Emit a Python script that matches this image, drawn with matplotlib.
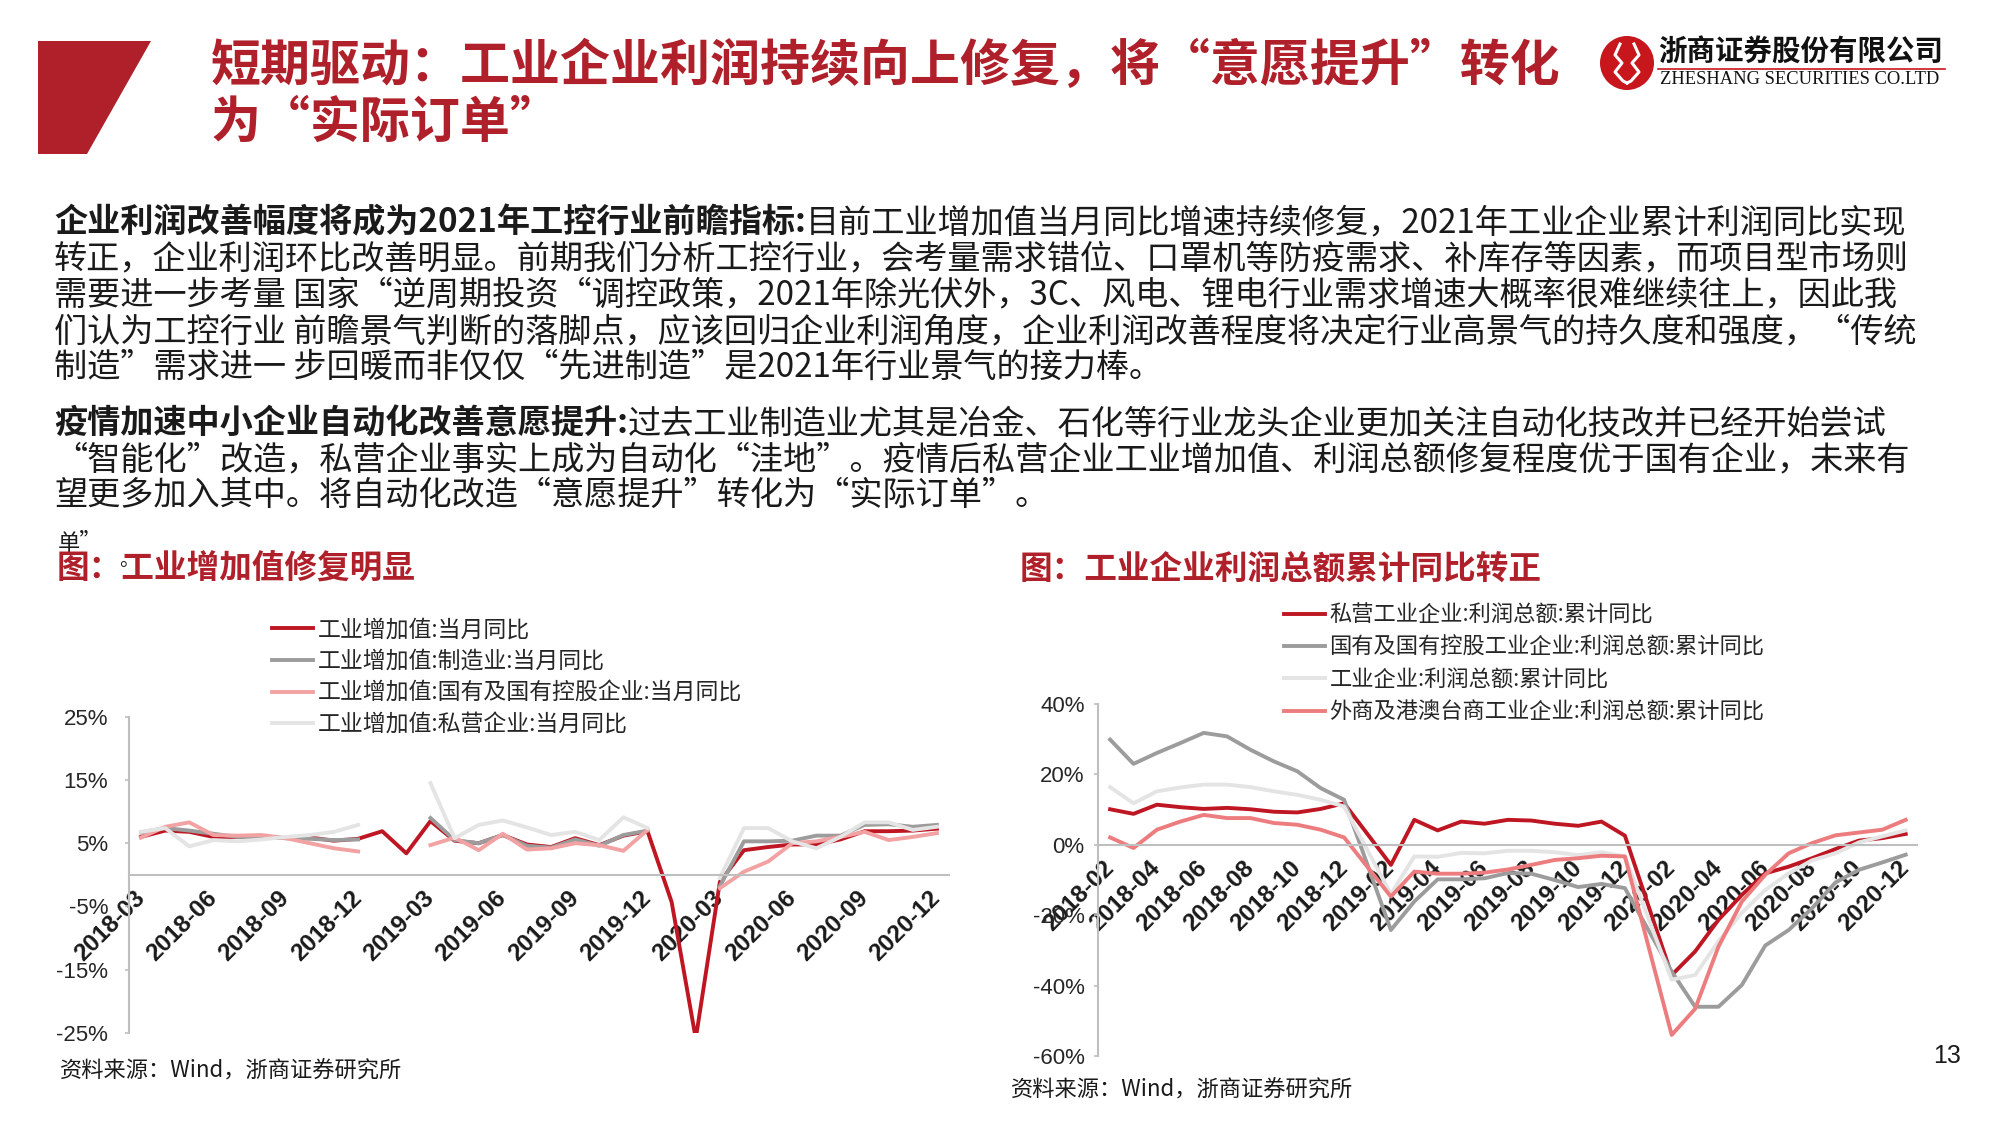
import numpy as np
import pandas as pd
import matplotlib
matplotlib.use("Agg")
import matplotlib.pyplot as plt
import matplotlib.ticker as mtick
from matplotlib.patches import Polygon, Circle

plt.rcParams["font.family"] = ["Noto Sans CJK SC", "DejaVu Sans"]
plt.rcParams["axes.unicode_minus"] = False

# ---------------- data ----------------
nan = np.nan
mon_l = pd.period_range("2018-03", "2020-12", freq="M").strftime("%Y-%m").tolist()
mon_r = pd.period_range("2018-02", "2020-12", freq="M").strftime("%Y-%m").tolist()

# 工业增加值 当月同比 (%), 2018-03 .. 2020-12
iva = [6.0, 7.0, 6.8, 6.0, 6.0, 6.1, 5.8, 5.9, 5.4, 5.7, 6.9, 3.4,
       8.5, 5.4, 5.0, 6.3, 4.8, 4.4, 5.8, 4.7, 6.2, 6.9, -4.3, -25.9,
       -1.1, 3.9, 4.4, 4.8, 4.8, 5.6, 6.9, 6.9, 7.0, 7.3]
iva_mfg = [6.7, 7.4, 7.0, 6.5, 6.0, 5.9, 5.8, 5.7, 5.5, 5.6, nan, nan,
           9.0, 5.5, 5.0, 6.3, 4.6, 4.3, 5.6, 4.6, 6.3, 7.0, nan, nan,
           -1.8, 5.3, 5.3, 5.4, 6.2, 6.2, 7.9, 8.0, 7.6, 7.9]
iva_soe = [5.9, 7.6, 8.3, 6.3, 6.2, 6.3, 5.8, 5.0, 4.2, 3.7, nan, nan,
           4.7, 5.9, 3.9, 6.5, 4.0, 4.2, 5.0, 4.7, 3.8, 7.1, nan, nan,
           -2.1, 0.5, 2.1, 5.0, 5.3, 6.0, 6.8, 5.5, 6.0, 6.6]
iva_pvt = [6.8, 7.4, 4.5, 5.5, 5.3, 5.6, 6.0, 6.3, 6.8, 7.9, nan, nan,
           14.5, 5.8, 7.9, 8.6, 7.5, 6.3, 6.8, 5.5, 9.1, 7.4, nan, nan,
           -0.5, 7.4, 7.4, 5.3, 4.2, 6.0, 8.3, 8.3, 7.1, 7.6]
lab_l = ["工业增加值:当月同比", "工业增加值:制造业:当月同比",
         "工业增加值:国有及国有控股企业:当月同比", "工业增加值:私营企业:当月同比"]

# 利润总额 累计同比 (%), 2018-02 .. 2020-12
pf_pvt = [10.1, 8.8, 11.4, 10.7, 10.2, 10.5, 10.1, 9.4, 9.2, 10.2, 11.8, nan,
          -5.7, 7.1, 4.1, 6.6, 6.0, 7.1, 6.9, 6.0, 5.4, 6.6, 2.6, nan,
          -37.0, -30.3, -21.3, -14.2, -8.1, -6.2, -3.8, -1.2, 1.2, 1.9, 3.1]
pf_soe = [29.9, 23.0, 26.1, 28.9, 31.8, 30.8, 27.0, 23.7, 20.9, 16.1, 12.8, nan,
          -24.2, -16.1, -9.8, -9.8, -9.5, -8.0, -8.2, -10.0, -12.0, -11.1, -12.3, nan,
          -36.0, -46.0, -46.0, -39.8, -28.6, -24.2, -18.0, -10.7, -7.1, -5.0, -2.8]
pf_all = [16.4, 11.8, 15.2, 16.3, 17.1, 17.1, 16.4, 15.2, 14.2, 12.8, 10.9, nan,
          -14.0, -3.3, -3.4, -2.3, -2.4, -1.7, -1.7, -2.1, -2.9, -2.1, -3.3, nan,
          -38.3, -37.0, -27.4, -19.3, -12.8, -8.1, -4.4, -2.4, 0.7, 2.4, 4.1]
pf_fgn = [2.1, -0.9, 4.3, 6.6, 8.5, 7.6, 7.6, 6.2, 5.7, 4.3, 2.1, nan,
          -14.7, -7.6, -8.2, -8.2, -7.9, -7.0, -5.7, -4.3, -3.8, -3.1, -3.3, nan,
          -54.0, -46.6, -28.9, -16.1, -8.5, -2.4, 0.5, 2.7, 3.5, 4.3, 7.1]
lab_r = ["私营工业企业:利润总额:累计同比", "国有及国有控股工业企业:利润总额:累计同比",
         "工业企业:利润总额:累计同比", "外商及港澳台商工业企业:利润总额:累计同比"]

RED = "#B0202A"
TXT = "#1A1A1A"
AXC = "#BFBFBF"
col_l = ["#BE1622", "#9C9C9C", "#F2A2A2", "#E4E4E4"]
col_r = ["#BE1622", "#9C9C9C", "#E4E4E4", "#EC7C7E"]

fig = plt.figure(figsize=(20, 11.25), dpi=100)
bg = fig.add_axes([0, 0, 1, 1])
bg.set_xlim(0, 2000)
bg.set_ylim(1125, 0)
bg.axis("off")

# ---------------- header ----------------
bg.add_patch(Polygon([(38, 41), (151, 41), (87, 154), (38, 154)], closed=True, color=RED, lw=0))
bg.text(211, 67, "短期驱动：工业企业利润持续向上修复，将“意愿提升”转化",
        fontsize=36, weight="bold", color=RED, va="center")
bg.text(211, 123, "为“实际订单”", fontsize=36, weight="bold", color=RED, va="center")

# logo
cx, cy = 1627, 63
bg.add_patch(Circle((cx, cy), 27, color="#C8161D", lw=0))
pts = np.array([(-7, -19), (-12, -8), (-5, 0), (-12, 9), (-4, 18), (0, 20)])
for sgn in (-1, 1):
    bg.plot(cx + sgn * -pts[:, 0], cy + pts[:, 1], color="white", lw=2.2, solid_joinstyle="round")
bg.text(1658, 52, "浙商证券股份有限公司", fontsize=20.5, weight="bold", va="center", color="#111111")
bg.plot([1658, 1945], [68.5, 68.5], color="#C8161D", lw=1.2)
bg.text(1660, 80, "ZHESHANG SECURITIES CO.LTD", family="Liberation Serif",
        fontsize=13.3, va="center", color="#111111")

# ---------------- body text ----------------
FS = 23.9


def tline(y, s, bold=None):
    if bold:
        t = bg.text(54, y, bold, fontsize=FS, weight="bold", va="baseline", color=TXT)
        bg.annotate(s, xy=(1, y), xycoords=(t, "data"), fontsize=FS, va="baseline", color=TXT)
    else:
        bg.text(54, y, s, fontsize=FS, va="baseline", color=TXT)


tline(232, "目前工业增加值当月同比增速持续修复，2021年工业企业累计利润同比实现",
      "企业利润改善幅度将成为2021年工控行业前瞻指标:")
tline(268, "转正，企业利润环比改善明显。前期我们分析工控行业，会考量需求错位、口罩机等防疫需求、补库存等因素，而项目型市场则")
tline(304, "需要进一步考量 国家“逆周期投资“调控政策，2021年除光伏外，3C、风电、锂电行业需求增速大概率很难继续往上，因此我")
tline(341, "们认为工控行业 前瞻景气判断的落脚点，应该回归企业利润角度，企业利润改善程度将决定行业高景气的持久度和强度，“传统")
tline(377, "制造”需求进一 步回暖而非仅仅“先进制造”是2021年行业景气的接力棒。")
tline(434, "过去工业制造业尤其是冶金、石化等行业龙头企业更加关注自动化技改并已经开始尝试",
      "疫情加速中小企业自动化改善意愿提升:")
tline(469, "“智能化”改造，私营企业事实上成为自动化“洼地”。疫情后私营企业工业增加值、利润总额修复程度优于国有企业，未来有")
tline(505, "望更多加入其中。将自动化改造“意愿提升”转化为“实际订单”。")

# stray fragments and chart titles
bg.text(58, 544, "单”", fontsize=16, va="center", color=TXT)
bg.text(119, 566, "。", fontsize=14, va="baseline", color=TXT)
bg.text(57, 569, "图：工业增加值修复明显", fontsize=23.5, weight="bold", color=RED, va="center")
bg.text(1020, 569, "图：工业企业利润总额累计同比转正", fontsize=23.5, weight="bold", color=RED, va="center")

bg.text(60, 1071, "资料来源：Wind，浙商证券研究所", fontsize=16, va="center", color=TXT)
bg.text(1011, 1090, "资料来源：Wind，浙商证券研究所", fontsize=16, va="center", color=TXT)
bg.text(1961, 1056, "13", fontsize=18, family="Liberation Sans", ha="right", va="center", color=TXT)


# ---------------- charts ----------------
def style(ax, n, ticks, labels, ypad):
    ax.set_facecolor("none")
    for s in ("top", "right"):
        ax.spines[s].set_visible(False)
    ax.spines["left"].set_color(AXC)
    ax.spines["left"].set_linewidth(1.5)
    ax.spines["bottom"].set_position(("data", 0))
    ax.spines["bottom"].set_color(AXC)
    ax.spines["bottom"].set_linewidth(1.5)
    ax.set_xlim(-0.5, n - 0.5)
    ax.yaxis.set_major_formatter(mtick.PercentFormatter(decimals=0))
    ax.tick_params(axis="y", length=3, width=1.2, color=AXC, labelsize=16, pad=ypad,
                   labelcolor="#262626", labelfontfamily="Liberation Sans")
    ax.tick_params(axis="x", length=0, pad=14)
    ax.set_xticks(ticks)
    ax.set_xticklabels(labels, rotation=45, ha="right", va="center", rotation_mode="anchor",
                       fontsize=17.5, fontweight="bold", family="Liberation Sans", color="#1A1A1A")


axL = fig.add_axes([0.0645, 0.0818, 0.41, 0.2811])
xl = np.arange(len(mon_l))
for v, c, lb in zip([iva, iva_mfg, iva_soe, iva_pvt], col_l, lab_l):
    axL.plot(xl, v, color=c, lw=2.8, label=lb, solid_joinstyle="round")
axL.set_ylim(-25, 25)
axL.set_yticks([25, 15, 5, -5, -15, -25])
style(axL, len(mon_l), xl[::3], mon_l[::3], 12)
axL.legend(loc="upper left", bbox_to_anchor=(0.136, 0.4505), bbox_transform=fig.transFigure,
           frameon=False, fontsize=16.5, handlelength=1.8, handletextpad=0.2,
           labelspacing=0.38, borderpad=0, borderaxespad=0, labelcolor="#262626")

axR = fig.add_axes([0.5492, 0.0613, 0.4095, 0.3129])
xr = np.arange(len(mon_r))
for v, c, lb in zip([pf_pvt, pf_soe, pf_all, pf_fgn], col_r, lab_r):
    v = np.array(v)
    ok = ~np.isnan(v)
    axR.plot(xr[ok], v[ok], color=c, lw=2.8, label=lb, solid_joinstyle="round")
axR.set_ylim(-60, 40)
axR.set_yticks(np.arange(-60, 41, 20))
style(axR, len(mon_r), xr[::2], mon_r[::2], 7)
axR.legend(loc="upper left", bbox_to_anchor=(0.642, 0.4635), bbox_transform=fig.transFigure,
           frameon=False, fontsize=16, handlelength=1.85, handletextpad=0.2,
           labelspacing=0.42, borderpad=0, borderaxespad=0, labelcolor="#262626")

fig.savefig("out.png", dpi=100, facecolor="white")
